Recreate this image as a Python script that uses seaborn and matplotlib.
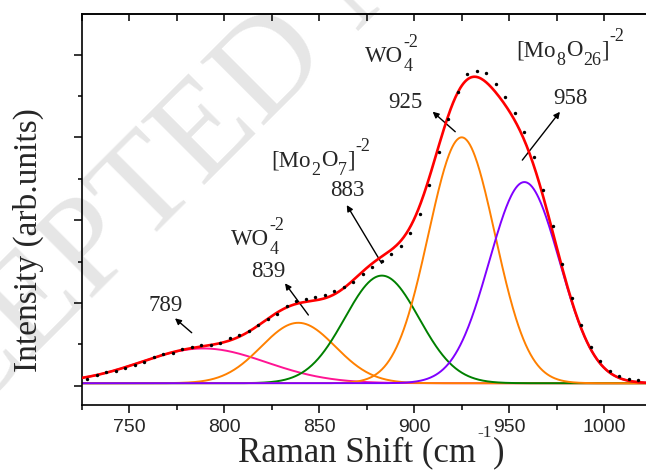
import numpy as np
import pandas as pd
import matplotlib
matplotlib.use("Agg")
import matplotlib.pyplot as plt
import seaborn as sns
from matplotlib.ticker import MultipleLocator

# ---- fitted Raman bands (centre in cm-1, amplitude, gaussian sigma) ----
band_labels = ["789", "839", "883", "925", "958"]
band_centers = [789, 839, 883, 925, 958]
band_heights = [0.42, 0.73, 1.30, 2.97, 2.43]
band_sigmas = [33.0, 19.5, 19.5, 17.5, 18.5]
fit_baseline = 0.03

# ---- measured spectrum ----
shift_meas = [728, 733, 738, 743, 748, 753, 758, 763, 768, 773,
              778, 783, 788, 793, 798, 803, 808, 813, 818, 823,
              828, 833, 838, 843, 848, 853, 858, 863, 868, 873,
              878, 883, 888, 893, 898, 903, 908, 913, 918, 923,
              928, 933, 938, 943, 948, 953, 958, 963, 968, 973,
              978, 983, 988, 993, 998, 1003, 1008, 1013, 1018]
intensity_meas = [0.085, 0.125, 0.17, 0.18, 0.215, 0.255, 0.29, 0.345, 0.385, 0.40,
                  0.44, 0.47, 0.49, 0.49, 0.52, 0.575, 0.61, 0.665, 0.73, 0.80,
                  0.87, 0.96, 1.02, 1.05, 1.07, 1.10, 1.14, 1.19, 1.25, 1.35,
                  1.43, 1.51, 1.59, 1.69, 1.85, 2.08, 2.42, 2.82, 3.22, 3.55,
                  3.76, 3.80, 3.78, 3.65, 3.49, 3.30, 3.07, 2.76, 2.36, 1.93,
                  1.47, 1.06, 0.73, 0.47, 0.30, 0.18, 0.12, 0.08, 0.075]

# ---- axis text ----
x_ticks = [750, 800, 850, 900, 950, 1000]
x_tick_labels = ["750", "800", "850", "900", "950", "1000"]
y_title = "Intensity (arb.units)"

# species names as (text, role) runs: role is base / sub / sup
species_runs = [
    [("WO", "base"), ("4", "sub"), ("-2", "sup")],
    [("[Mo", "base"), ("2", "sub"), ("O", "base"), ("7", "sub"), ("]", "base"), ("-2", "sup")],
    [("WO", "base"), ("4", "sub"), ("-2", "sup")],
    [("[Mo", "base"), ("8", "sub"), ("O", "base"), ("26", "sub"), ("]", "base"), ("-2", "sup")],
]
x_title_runs = [("Raman Shift (cm", "base"), ("-1", "sup"), (")", "base")]

band_colors = {"789": "#FF1493", "839": "#FF8000", "883": "#008000",
               "925": "#FF8000", "958": "#8000FF"}

sns.set_theme(style="ticks")
plt.rcParams["font.family"] = ["Liberation Serif", "DejaVu Serif"]

# evaluate band profiles on a fine grid
grid = np.linspace(725, 1022, 700)
frames = []
for lab, c, h, s in zip(band_labels, band_centers, band_heights, band_sigmas):
    frames.append(pd.DataFrame({
        "shift": grid,
        "intensity": fit_baseline + h * np.exp(-(grid - c) ** 2 / (2 * s ** 2)),
        "band": lab,
    }))
bands = pd.concat(frames, ignore_index=True)
envelope = bands.groupby("shift", sort=True)["intensity"].sum() - fit_baseline * (len(band_labels) - 1)
envelope = envelope.reset_index()
measured = pd.DataFrame({"shift": shift_meas, "intensity": intensity_meas})

fig = plt.figure(figsize=(6.46, 4.70), dpi=100)
W, H = 646.0, 470.0
ax = fig.add_axes([81.7 / W, 1 - 405 / H, (W - 81.7) / W, (405 - 14) / H])
ax.patch.set_alpha(0)

# faint diagonal watermark behind everything
fig.text(-0.264, -0.193, "ACCEPTED MANUSCRIPT", rotation=45, rotation_mode="anchor",
         ha="left", va="baseline", fontsize=99, color="#E6E6E6",
         family="Liberation Serif", zorder=-5)

sns.lineplot(data=bands, x="shift", y="intensity", hue="band", hue_order=band_labels,
             palette=band_colors, legend=False, linewidth=1.4, ax=ax, sort=True,
             estimator=None)
sns.lineplot(data=envelope, x="shift", y="intensity", color="#FF0000",
             linewidth=1.9, ax=ax, zorder=4)
sns.scatterplot(data=measured, x="shift", y="intensity", color="black", s=6,
                marker="o", linewidth=0, ax=ax, zorder=5)

ax.set_xlim(725, 1022)
ax.set_ylim(-0.233, 4.49)

# annotations: (text, text position, arrow tail, arrow tip)
arrow_kw = dict(arrowstyle="-|>", color="black", lw=1.0, mutation_scale=9,
                shrinkA=0, shrinkB=0)
peak_notes = [
    (band_labels[0], (769.1, 0.963), (782.9, 0.64), (774.1, 0.814)),
    (band_labels[1], (823.4, 1.385), (844.3, 0.854), (832.0, 1.237)),
    (band_labels[2], (864.9, 2.363), (882.9, 1.478), (864.5, 2.182)),
    (band_labels[3], (895.2, 3.42), (921.6, 3.068), (909.7, 3.31)),
    (band_labels[4], (982.0, 3.469), (956.9, 2.725), (976.7, 3.309)),
]
for txt, tpos, tail, tip in peak_notes:
    ax.text(tpos[0], tpos[1], txt, fontsize=16.5, ha="center", va="center")
    ax.annotate("", xy=tip, xytext=tail, arrowprops=arrow_kw)

renderer = fig.canvas.get_renderer()


def rich_text(x0, y0, runs, size, small, sub_drop, sup_rise, gap=0.5):
    """Write base/sub/sup runs left to right starting at display px (x0, y0)."""
    x = x0
    stacked_from = None
    for text, role in runs:
        if role == "base":
            t = fig.text(x / W, y0 / H, text, fontsize=size, ha="left", va="baseline")
            x = t.get_window_extent(renderer).x1 + gap
            stacked_from = None
        elif role == "sub":
            t = fig.text(x / W, (y0 - sub_drop) / H, text, fontsize=small,
                         ha="left", va="baseline")
            stacked_from = x
            x = t.get_window_extent(renderer).x1 + gap
        else:
            start = stacked_from if stacked_from is not None else x
            t = fig.text(start / W, (y0 + sup_rise) / H, text, fontsize=small,
                         ha="left", va="baseline")
            x = max(x, t.get_window_extent(renderer).x1 + gap)
            stacked_from = None


species_pos = [(803.7, 1.699), (825.0, 2.653), (874.1, 3.91), (953.9, 3.98)]
for runs, pos in zip(species_runs, species_pos):
    px, py = ax.transData.transform(pos)
    rich_text(px, py, runs, 16.5, 13, 9, 15)

# axes styling
ax.set_xticks(x_ticks)
ax.set_xticklabels(x_tick_labels, fontfamily="Liberation Sans", fontsize=14)
ax.xaxis.set_minor_locator(MultipleLocator(25))
ax.set_yticks([0, 1, 2, 3, 4])
ax.set_yticklabels([])
ax.yaxis.set_minor_locator(MultipleLocator(0.5))
ax.tick_params(axis="x", which="major", direction="out", length=5.5, width=1.1,
               color="black", pad=4.5, top=False)
ax.tick_params(axis="x", which="minor", direction="out", length=3.6, width=1.1,
               color="black", top=False)
ax.tick_params(axis="y", which="major", direction="out", length=5.5, width=1.1,
               color="black", right=False)
ax.tick_params(axis="y", which="minor", direction="out", length=3.1, width=1.1,
               color="black", right=False)
for side in ["left", "bottom", "top"]:
    ax.spines[side].set_visible(True)
    ax.spines[side].set_color("black")
    ax.spines[side].set_linewidth(1.2)
ax.spines["right"].set_visible(False)

top = ax.secondary_xaxis("top")
top.xaxis.set_major_locator(MultipleLocator(25))
top.tick_params(direction="in", length=4.8, width=1.1, color="black", labeltop=False)
top.spines["top"].set_linewidth(1.2)

ax.set_xlabel("")
ax.set_ylabel("")
rich_text(238, H - 461, x_title_runs, 25, 12.5, 0, 24, gap=1.0)
fig.text(28 / W, 1 - 240.5 / H, y_title, fontsize=24, rotation=90,
         ha="center", va="center")

fig.savefig("out.png", dpi=100)
